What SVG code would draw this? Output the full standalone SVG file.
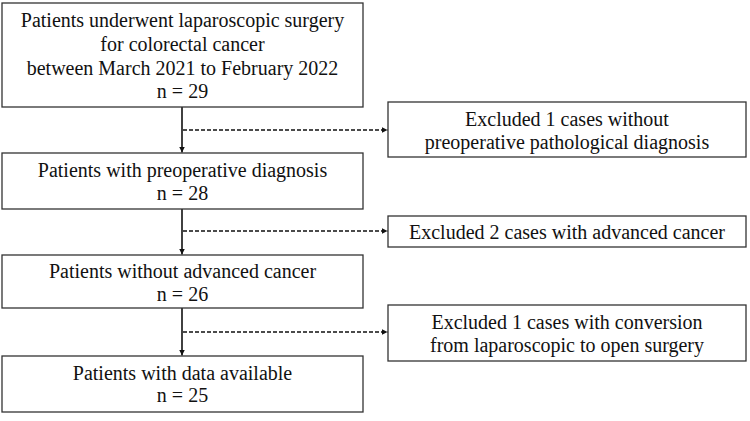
<svg xmlns="http://www.w3.org/2000/svg" width="750" height="421" viewBox="0 0 750 421">
<defs>
<style>
.box{fill:#fff;stroke:#333;stroke-width:1.3}
.t{font-family:"Liberation Serif","Times New Roman",serif;font-size:20px;fill:#111;text-anchor:middle}
.solid{stroke:#111;stroke-width:1.6;fill:none}
.dash{stroke:#111;stroke-width:1.3;fill:none;stroke-dasharray:4 2}
</style>
<marker id="ah" viewBox="0 0 10 10" refX="10" refY="5" markerWidth="6" markerHeight="6" markerUnits="userSpaceOnUse" orient="auto">
<path d="M0,0 L10,5 L0,10 z" fill="#111"/>
</marker>
</defs>
<rect width="750" height="421" fill="#fff"/>
<g id="connectors">
<line class="solid" x1="182" y1="107" x2="182" y2="152.5" marker-end="url(#ah)"/>
<line class="solid" x1="182" y1="209" x2="182" y2="254.5" marker-end="url(#ah)"/>
<line class="solid" x1="182" y1="308" x2="182" y2="355.5" marker-end="url(#ah)"/>
<line class="dash" x1="183" y1="130" x2="387.5" y2="130" marker-end="url(#ah)"/>
<line class="dash" x1="183" y1="231" x2="387.5" y2="231" marker-end="url(#ah)"/>
<line class="dash" x1="183" y1="332" x2="387.5" y2="332" marker-end="url(#ah)"/>
</g>
<g id="n1">
<rect class="box" x="2" y="3" width="361" height="104"/>
<text class="t" x="182.5" y="27">Patients underwent laparoscopic surgery</text>
<text class="t" x="182.5" y="51">for colorectal cancer</text>
<text class="t" x="182.5" y="75">between March 2021 to February 2022</text>
<text class="t" x="182.5" y="98">n = 29</text>
</g>
<g id="n2">
<rect class="box" x="2" y="153" width="361" height="56"/>
<text class="t" x="182.5" y="177">Patients with preoperative diagnosis</text>
<text class="t" x="182.5" y="200">n = 28</text>
</g>
<g id="n3">
<rect class="box" x="2" y="255" width="361" height="53"/>
<text class="t" x="182.5" y="278">Patients without advanced cancer</text>
<text class="t" x="182.5" y="301">n = 26</text>
</g>
<g id="n4">
<rect class="box" x="2" y="356" width="361" height="56"/>
<text class="t" x="182.5" y="380">Patients with data available</text>
<text class="t" x="182.5" y="402">n = 25</text>
</g>
<g id="e1">
<rect class="box" x="388" y="102" width="358" height="55"/>
<text class="t" x="567" y="126">Excluded 1 cases without</text>
<text class="t" x="567" y="149">preoperative pathological diagnosis</text>
</g>
<g id="e2">
<rect class="box" x="388" y="216" width="358" height="31"/>
<text class="t" x="567" y="238.5">Excluded 2 cases with advanced cancer</text>
</g>
<g id="e3">
<rect class="box" x="388" y="305" width="358" height="56"/>
<text class="t" x="567" y="329">Excluded 1 cases with conversion</text>
<text class="t" x="567" y="352">from laparoscopic to open surgery</text>
</g>
</svg>
